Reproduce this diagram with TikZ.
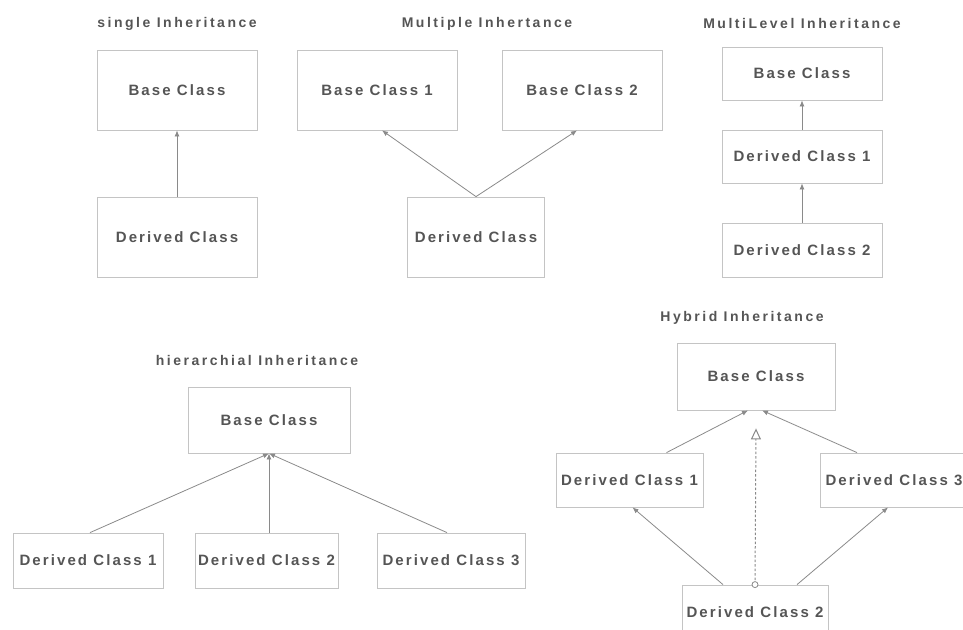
\documentclass[tikz,border=0pt]{standalone}
\usepackage{fontspec}
\setmainfont{Liberation Sans}
\newfontfamily\clsfont[LetterSpace=14]{Liberation Sans}
\newfontfamily\ttlfont[LetterSpace=18]{Liberation Sans}
\usetikzlibrary{arrows.meta}

\definecolor{boxgray}{HTML}{C4C4C4}
\definecolor{txtgray}{HTML}{555555}
\definecolor{linegray}{HTML}{8A8A8A}

\begin{document}
\begin{tikzpicture}[x=1pt, y=-1pt,
  cls/.style={draw=boxgray, line width=0.8pt, inner sep=0pt, text=txtgray,
    font=\clsfont\bfseries\fontsize{15}{15}\selectfont},
  ttl/.style={text=txtgray, inner sep=0pt, font=\ttlfont\bfseries\fontsize{14}{14}\selectfont},
  inh/.style={draw=linegray, line width=0.8pt, -{Latex[length=6pt,width=5pt]}}
]
\useasboundingbox (0,0) rectangle (963,629);

\node [ttl] (sTitle) at (177,24) {single Inheritance};
\node [cls, minimum width=160pt, minimum height=80pt] (sBase) at (177,90) {Base Class};
\node [cls, minimum width=160pt, minimum height=80pt] (sDer) at (177,237) {Derived Class};
\draw [inh] (sDer.north) -- (sBase.south);

\node [ttl] (mTitle) at (487,24) {Multiple Inhertance};
\node [cls, minimum width=160pt, minimum height=80pt] (mBaseA) at (377,90) {Base Class 1};
\node [cls, minimum width=160pt, minimum height=80pt] (mBaseB) at (582,90) {Base Class 2};
\node [cls, minimum width=137pt, minimum height=80pt] (mDer) at (476,237) {Derived Class};
\draw [inh] (mDer.north) -- ([xshift=5pt]mBaseA.south);
\draw [inh] (mDer.north) -- ([xshift=-5pt]mBaseB.south);

\node [ttl] (lTitle) at (802,23) {MultiLevel Inheritance};
\node [cls, minimum width=160pt, minimum height=53pt] (lBase) at (802,73.5) {Base Class};
\node [cls, minimum width=160pt, minimum height=53pt] (lDerA) at (802,156.5) {Derived Class 1};
\node [cls, minimum width=160pt, minimum height=54pt] (lDerB) at (802,250) {Derived Class 2};
\draw [inh] (lDerA.north) -- (lBase.south);
\draw [inh] (lDerB.north) -- (lDerA.south);

\node [ttl] (hTitle) at (257,360) {hierarchial Inheritance};
\node [cls, minimum width=162pt, minimum height=66pt] (hBase) at (269,420) {Base Class};
\node [cls, minimum width=150pt, minimum height=55pt] (hDerA) at (88,560.5) {Derived Class 1};
\node [cls, minimum width=143pt, minimum height=55pt] (hDerB) at (266.5,560.5) {Derived Class 2};
\node [cls, minimum width=148pt, minimum height=55pt] (hDerC) at (451,560.5) {Derived Class 3};
\draw [inh] ([xshift=2pt]hDerA.north) -- (hBase.south);
\draw [inh] ([xshift=2.5pt]hDerB.north) -- (hBase.south);
\draw [inh] ([xshift=-4pt]hDerC.north) -- (hBase.south);

\node [ttl] (yTitle) at (742,318) {Hybrid Inheritance};
\node [cls, minimum width=158pt, minimum height=67pt] (yBase) at (756,376.5) {Base Class};
\node [cls, minimum width=147pt, minimum height=54pt] (yDerA) at (629.5,480) {Derived Class 1};
\node [cls, minimum width=147pt, minimum height=54pt] (yDerC) at (894,480) {Derived Class 3};
\node [cls, minimum width=146pt, minimum height=54pt] (yDerB) at (755,612) {Derived Class 2};
\draw [inh] ([xshift=37pt]yDerA.north) -- ([xshift=-8pt]yBase.south);
\draw [inh] ([xshift=-37pt]yDerC.north) -- ([xshift=6pt]yBase.south);
\draw [inh] ([xshift=-32pt]yDerB.north) -- ([xshift=3pt]yDerA.south);
\draw [inh] ([xshift=42pt]yDerB.north) -- ([xshift=-6pt]yDerC.south);
\draw [draw=linegray, line width=1pt, dash pattern=on 2.5pt off 2pt,
  -{Triangle[open, length=11pt, width=10pt, fill=white]}]
  (yDerB.north) -- ([yshift=-18pt]yBase.south);
\draw [linegray, line width=0.8pt, fill=white] (yDerB.north) circle (3pt);
\end{tikzpicture}
\end{document}
